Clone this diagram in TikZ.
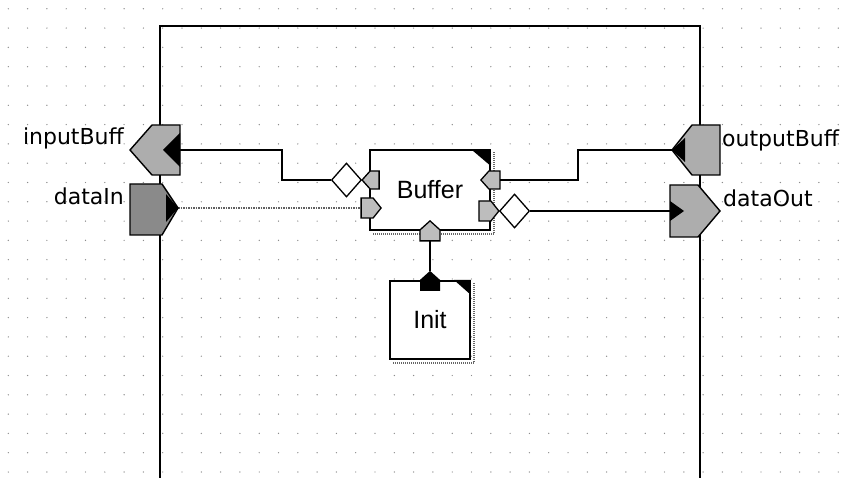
\documentclass[tikz,border=0pt]{standalone}
\usepackage{fontspec}
\setmainfont{DejaVu Sans}
\newfontfamily\blkfont{Liberation Sans}
\usepackage{tikz}
\usetikzlibrary{positioning,calc,shapes.geometric}
\definecolor{PortF}{HTML}{ADADAD}
\definecolor{PortD}{HTML}{8A8A8A}
\definecolor{PortL}{HTML}{BDBDBD}
\definecolor{Dot}{HTML}{8C8C8C}

\begin{document}
\begin{tikzpicture}[x=1pt,y=-1pt,
    blk/.style={draw=black,fill=white,line width=1.8pt,minimum width=120pt,
      minimum height=80pt,font=\blkfont\fontsize{25}{28}\selectfont,inner sep=0pt},
    lbl/.style={font=\fontsize{22}{26}\selectfont,inner sep=0pt},
    wire/.style={line width=2.2pt},
    dwire/.style={draw=gray!75!black,line width=2pt,dash pattern=on 1.5pt off 1pt},
    prt/.style={draw=black,fill=PortF,line width=1.4pt},
    bprt/.style={draw=black,fill=PortL,line width=1.3pt},
    dia/.style={draw=black,fill=white,line width=1.3pt,diamond,
      minimum width=30pt,minimum height=34pt,inner sep=0pt},
    shd/.style={draw=gray!80!black,line width=2.2pt,dash pattern=on 1pt off 1pt}]
  \useasboundingbox (0,0) rectangle (846,478);
  % dotted grid
  \foreach \i in {0,...,43}
    \foreach \j in {0,...,24}
      \fill[Dot] (8.3+19.3*\i,8.8+19.3*\j) circle (0.7pt);
  % outer frame
  \draw[wire] (160,478) -- (160,26) -- (700,26) -- (700,478);

  % blocks
  \node[blk] (buf) at (430,190) {Buffer};
  \node[blk,minimum width=80pt,minimum height=78pt,below=49pt of buf] (init) {Init};
  \draw[shd] ([shift={(3,3)}]buf.north east) -- ([shift={(3,3)}]buf.south east)
    -- ([shift={(3,3)}]buf.south west);
  \draw[shd] ([shift={(3,3)}]init.north east) -- ([shift={(3,3)}]init.south east)
    -- ([shift={(3,3)}]init.south west);
  \fill (buf.north east) -- ++(0,17) -- ++(-20,-17) -- cycle;
  \fill (init.north east) -- ++(0,15) -- ++(-17,-15) -- cycle;

  % ports of the frame
  \coordinate (inB) at (180,150);
  \coordinate (dIn) at (178,208);
  \coordinate (outB) at (672,150);
  \coordinate (dOut) at (670,211);
  % ports of the blocks
  \coordinate (bufIn) at ([shift={(-7,-10)}]buf.west);
  \coordinate (bufData) at ([shift={(-8,18)}]buf.west);
  \coordinate (bufOut) at ([shift={(9,-10)}]buf.east);
  \coordinate (bufCtl) at ([shift={(8,21)}]buf.east);
  \coordinate (bufInit) at ([shift={(0,10)}]buf.south);
  \coordinate (initIn) at ([shift={(0,-9)}]init.north);
  \node[dia,left=0pt of bufIn] (dL) {};
  \node[dia,right=0pt of bufCtl] (dR) {};

  % connectors
  \draw[wire] (inB) -- ++(102,0) |- (dL.west);
  \draw[dwire] (dIn) -- (bufData);
  \draw[wire] (bufOut) -- ++(78,0) |- (outB);
  \draw[wire] (dR.east) -- (dOut);
  \draw[wire] (bufInit) -- (initIn);

  % port shapes
  \draw[prt] (inB) ++(0,-25) -- ++(0,50) -- ++(-28,0) -- ++(-22,-25) -- ++(22,-25) -- cycle;
  \fill (inB) ++(0,-17) -- ++(-17,17) -- ++(17,17) -- cycle;
  \draw[prt,fill=PortD] (dIn) -- ++(-16,-24) -- ++(-32,0) -- ++(0,51) -- ++(32,0) -- cycle;
  \fill (dIn) -- ++(-12,-14) -- ++(0,28) -- cycle;
  \draw[prt] (outB) -- ++(20,-25) -- ++(28,0) -- ++(0,50) -- ++(-28,0) -- cycle;
  \fill (outB) -- ++(13,-12) -- ++(0,24) -- cycle;
  \draw[prt] (dOut) ++(0,-26) -- ++(28,0) -- ++(22,26) -- ++(-22,26) -- ++(-28,0) -- cycle;
  \fill (dOut) ++(0,-10) -- ++(14,10) -- ++(-14,10) -- cycle;
  \draw[bprt] (bufIn) -- ++(8,-9) -- ++(9,0) -- ++(0,18) -- ++(-9,0) -- cycle;
  \draw[bprt] (bufData) ++(0,-10) -- ++(12,0) -- ++(8,10) -- ++(-8,10) -- ++(-12,0) -- cycle;
  \draw[bprt] (bufOut) ++(0,-9) -- ++(0,18) -- ++(-11,0) -- ++(-8,-9) -- ++(8,-9) -- cycle;
  \draw[bprt] (bufCtl) -- ++(-8,-10) -- ++(-12,0) -- ++(0,20) -- ++(12,0) -- cycle;
  \draw[bprt] (bufInit) ++(-10,0) -- ++(20,0) -- ++(0,-11) -- ++(-10,-9) -- ++(-10,9) -- cycle;
  \fill (initIn) -- ++(10,9) -- ++(0,11) -- ++(-20,0) -- ++(0,-11) -- cycle;

  % labels
  \node[lbl,anchor=base east] (lInB) at (124,145) {inputBuff};
  \node[lbl,anchor=base east] (lDIn) at (124,205) {dataIn};
  \node[lbl,anchor=base west] (lOutB) at (722,147) {outputBuff};
  \node[lbl,anchor=base west] (lDOut) at (723,207) {dataOut};
\end{tikzpicture}
\end{document}
